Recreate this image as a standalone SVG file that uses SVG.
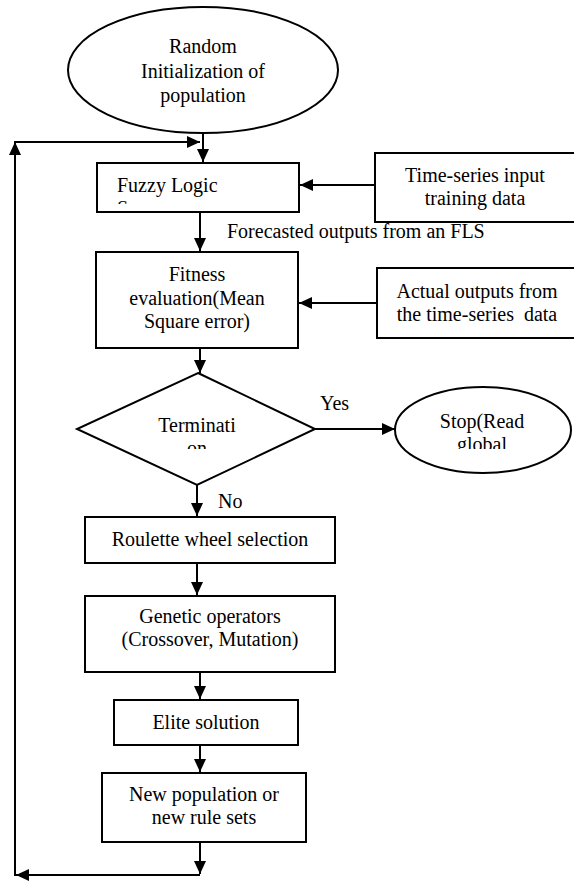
<svg xmlns="http://www.w3.org/2000/svg" width="574" height="881" viewBox="0 0 574 881" font-family="'Liberation Serif', 'Times New Roman', serif">
<style>
text{font-family:'Liberation Serif','Times New Roman',serif;font-size:20px;fill:#000}
.c{text-anchor:middle}
.s{fill:#fff;stroke:#000;stroke-width:2}
.l{fill:none;stroke:#000;stroke-width:2}
</style>
<defs>
<marker id="ah" markerUnits="userSpaceOnUse" markerWidth="14" markerHeight="12" refX="13" refY="6" orient="auto">
<path d="M0,0 L13,6 L0,12 z" fill="#000"/>
</marker>
<clipPath id="cf"><rect x="97" y="163" width="202" height="41"/></clipPath>
<clipPath id="ct"><rect x="77" y="373" width="238" height="76"/></clipPath>
<clipPath id="cs"><rect x="395" y="386" width="176" height="63"/></clipPath>
</defs>
<rect width="574" height="881" fill="#fff"/>
<g id="connectors">
<line class="l" x1="203" y1="133" x2="203" y2="162" marker-end="url(#ah)"/>
<line class="l" x1="200" y1="842" x2="200" y2="874" marker-end="url(#ah)"/>
<line class="l" x1="200" y1="875" x2="16" y2="875" marker-end="url(#ah)"/>
<line class="l" x1="15" y1="876" x2="15" y2="142" marker-end="url(#ah)"/>
<line class="l" x1="14" y1="142" x2="200" y2="142" marker-end="url(#ah)"/>
<line class="l" x1="375" y1="185" x2="300" y2="185" marker-end="url(#ah)"/>
<line class="l" x1="200" y1="212" x2="200" y2="251" marker-end="url(#ah)"/>
<line class="l" x1="377" y1="303" x2="299" y2="303" marker-end="url(#ah)"/>
<line class="l" x1="200" y1="348" x2="200" y2="373" marker-end="url(#ah)"/>
<line class="l" x1="315" y1="429" x2="395" y2="429" marker-end="url(#ah)"/>
<line class="l" x1="197" y1="485" x2="197" y2="516" marker-end="url(#ah)"/>
<line class="l" x1="197" y1="563" x2="197" y2="595" marker-end="url(#ah)"/>
<line class="l" x1="200" y1="672" x2="200" y2="699" marker-end="url(#ah)"/>
<line class="l" x1="200" y1="745" x2="200" y2="772" marker-end="url(#ah)"/>
<text x="227" y="238">Forecasted outputs from an FLS</text>
<text x="320" y="410">Yes</text>
<text x="218" y="508">No</text>
</g>
<g id="start">
<ellipse class="s" cx="203" cy="70" rx="135" ry="63"/>
<text class="c" x="203" y="53">Random</text>
<text class="c" x="203" y="78">Initialization of</text>
<text class="c" x="203" y="102">population</text>
</g>
<g id="fls">
<rect class="s" x="97" y="163" width="202" height="49"/>
<g clip-path="url(#cf)">
<text x="117" y="192">Fuzzy Logic</text>
<text x="117" y="215">S</text>
</g>
</g>
<g id="input">
<rect class="s" x="375" y="153" width="210" height="69"/>
<text class="c" x="475" y="182">Time-series input</text>
<text class="c" x="475" y="205">training data</text>
</g>
<g id="fitness">
<rect class="s" x="96" y="252" width="202" height="96"/>
<text class="c" x="197" y="281">Fitness</text>
<text class="c" x="197" y="305">evaluation(Mean</text>
<text class="c" x="197" y="328">Square error)</text>
</g>
<g id="actual">
<rect class="s" x="377" y="268" width="210" height="70"/>
<text class="c" x="477" y="298">Actual outputs from</text>
<text class="c" x="477" y="321" xml:space="preserve">the time-series  data</text>
</g>
<g id="termination">
<polygon class="s" points="198,373 315,429 197,485 77,429"/>
<g clip-path="url(#ct)">
<text class="c" x="197" y="432">Terminati</text>
<text class="c" x="197" y="455">on</text>
</g>
</g>
<g id="stop">
<ellipse class="s" cx="483" cy="430" rx="88" ry="43"/>
<g clip-path="url(#cs)">
<text class="c" x="482" y="428">Stop(Read</text>
<text class="c" x="482" y="451">global</text>
</g>
</g>
<g id="roulette">
<rect class="s" x="85" y="517" width="250" height="46"/>
<text class="c" x="210" y="546">Roulette wheel selection</text>
</g>
<g id="genetic">
<rect class="s" x="85" y="596" width="250" height="76"/>
<text class="c" x="210" y="623">Genetic operators</text>
<text class="c" x="210" y="646">(Crossover, Mutation)</text>
</g>
<g id="elite">
<rect class="s" x="114" y="700" width="184" height="45"/>
<text class="c" x="206" y="729">Elite solution</text>
</g>
<g id="newpop">
<rect class="s" x="102" y="773" width="204" height="69"/>
<text class="c" x="204" y="801">New population or</text>
<text class="c" x="204" y="824">new rule sets</text>
</g>
</svg>
